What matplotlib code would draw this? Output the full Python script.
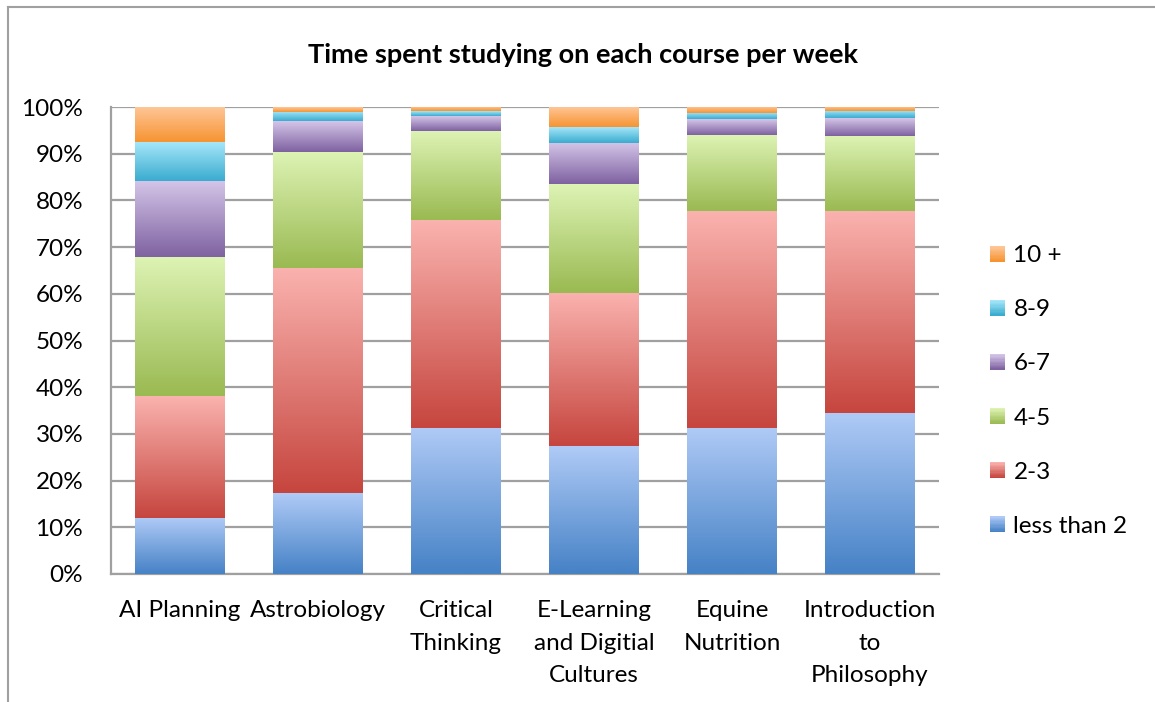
import numpy as np
import matplotlib
matplotlib.use("Agg")
import matplotlib.pyplot as plt
from matplotlib.colors import to_rgb
from matplotlib.patches import Patch, Rectangle
from matplotlib.lines import Line2D
from matplotlib.legend_handler import HandlerBase

plt.rcParams['font.family'] = ['Lato', 'DejaVu Sans']

courses = ["AI Planning", "Astrobiology", "Critical\nThinking",
           "E-Learning\nand Digitial\nCultures", "Equine\nNutrition",
           "Introduction\nto\nPhilosophy"]
series = ["less than 2", "2-3", "4-5", "6-7", "8-9", "10 +"]

less_than_2 = [12.0, 17.3, 31.3, 27.4, 31.3, 34.5]
h2_3 = [26.1, 48.2, 44.5, 32.8, 46.4, 43.2]
h4_5 = [29.8, 24.9, 19.1, 23.3, 16.3, 16.1]
h6_7 = [16.3, 6.6, 3.2, 8.8, 3.4, 3.8]
h8_9 = [8.3, 2.0, 1.0, 3.4, 1.3, 1.5]
h10_plus = [7.5, 1.0, 0.9, 4.3, 1.3, 0.9]

values = [less_than_2, h2_3, h4_5, h6_7, h8_9, h10_plus]

# (top light, bottom dark) gradient colours
grads = [("#afcaf6", "#4682c6"),
         ("#fab2ae", "#c6463f"),
         ("#ddf3b4", "#9aba52"),
         ("#d4c5e8", "#7f62a1"),
         ("#a5e6f9", "#3aaccf"),
         ("#ffc799", "#f69432")]


class GradientHandler(HandlerBase):
    def __init__(self, light, dark, n=12):
        super().__init__()
        self.light = np.array(to_rgb(light))
        self.dark = np.array(to_rgb(dark))
        self.n = n

    def create_artists(self, legend, orig_handle, xdescent, ydescent,
                       width, height, fontsize, trans):
        arts = []
        for i in range(self.n):
            t = i / (self.n - 1)
            c = self.dark * (1 - t) + self.light * t
            r = Rectangle((-xdescent, -ydescent + height * i / self.n),
                          width, height / self.n + 0.3, facecolor=c,
                          edgecolor='none', transform=trans)
            arts.append(r)
        return arts


fig = plt.figure(figsize=(11.55, 7.02), dpi=100)
ax = fig.add_axes([111/1155, 1-574/702, 828/1155, 467/702])

x = np.arange(len(courses))
width = 0.65
bottom = np.zeros(len(courses))
for vals, (light, dark) in zip(values, grads):
    vals = np.array(vals)
    bars = ax.bar(x, vals, width, bottom=bottom, facecolor='none',
                  edgecolor='none', zorder=3)
    c0 = np.array(to_rgb(dark))
    c1 = np.array(to_rgb(light))
    t = np.linspace(0, 1, 64)[:, None]
    grad = (c0 * (1 - t) + c1 * t)[:, None, :]
    for p in bars:
        x0, y0 = p.get_x(), p.get_y()
        w, h = p.get_width(), p.get_height()
        im = ax.imshow(grad, extent=[x0, x0 + w, y0, y0 + h], origin='lower',
                       aspect='auto', zorder=3, interpolation='bilinear')
        im.set_clip_path(p)
    bottom += vals

ax.set_xlim(-0.5, len(courses) - 0.5)
ax.set_ylim(0, 100)
ax.set_yticks(np.arange(0, 101, 10))
ax.set_yticklabels([f"{v}%" for v in range(0, 101, 10)])
ax.set_xticks(x)
ax.set_xticklabels(courses, linespacing=1.66)
ax.tick_params(axis='both', length=0, labelsize=17.5, colors='black')
ax.tick_params(axis='y', pad=20)
ax.tick_params(axis='x', pad=19)
ax.yaxis.grid(True, color='#a0a0a0', linewidth=1.6, zorder=0)
ax.set_axisbelow(True)
for s in ['top', 'right']:
    ax.spines[s].set_visible(False)
for s in ['left', 'bottom']:
    ax.spines[s].set_color('#a0a0a0')
    ax.spines[s].set_linewidth(1.6)

fig.text(0.505, 1 - 55/702, "Time spent studying on each course per week",
         ha='center', va='center', fontsize=19.5, fontweight='bold')

handles = [Patch(facecolor=g[1], edgecolor='none') for g in grads][::-1]
hmap = {h: GradientHandler(g[0], g[1]) for h, g in zip(handles, grads[::-1])}
fig.legend(handles, series[::-1], loc='center left',
           bbox_to_anchor=(968/1155, 1 - 391/702), frameon=False,
           fontsize=17.5, handlelength=0.62, handleheight=0.62,
           handletextpad=0.35, labelspacing=1.36, handler_map=hmap)

# outer chart border
fig.add_artist(Line2D([8/1155, 8/1155], [0, 1 - 7/702], color='#a0a0a0',
                      linewidth=1.5, transform=fig.transFigure))
fig.add_artist(Line2D([8/1155, 1], [1 - 7/702, 1 - 7/702], color='#a0a0a0',
                      linewidth=1.5, transform=fig.transFigure))

fig.savefig("out.png", dpi=100)
